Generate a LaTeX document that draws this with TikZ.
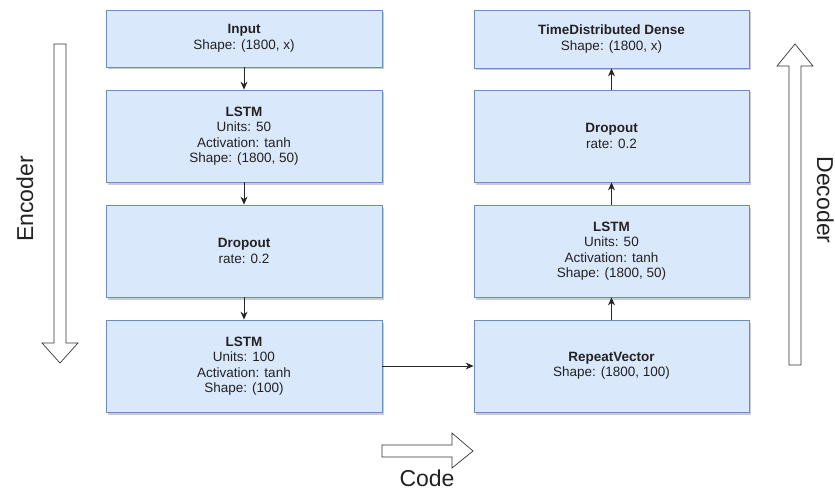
\documentclass[tikz,border=0pt]{standalone}
\usepackage{fontspec}
\setmainfont{Liberation Sans}
\usetikzlibrary{arrows.meta,shadows}
\definecolor{boxfill}{HTML}{DAE8FC}
\definecolor{boxline}{HTML}{6C8EBF}
\definecolor{bigline}{HTML}{333333}
\definecolor{txt}{HTML}{222222}
\tikzset{
  layer/.style={draw=boxline, fill=boxfill, line width=0.8pt, text=txt,
    drop shadow={shadow xshift=2pt, shadow yshift=-2.5pt, opacity=0.4, fill=gray},
    minimum width=276pt, align=center, inner sep=0pt,
    font=\fontsize{13.5}{15.5}\selectfont},
  flow/.style={draw=black!85, line width=0.8pt, -{Stealth[length=8pt,width=7pt]}},
  bigarrow/.style={draw=bigline, fill=white, line width=0.7pt, line join=miter},
  biglabel/.style={font=\fontsize{23}{26}\selectfont, inner sep=0pt, text=txt}
}
\begin{document}
\begin{tikzpicture}[x=1pt,y=-1pt]
\useasboundingbox (0,0) rectangle (835,492);
% left column
\node[layer, minimum height=57pt] (in) at (244,38.5) {\textbf{Input}\\Shape: (1800, x)};
\node[layer, minimum height=92pt] (l1) at (244,136) {\textbf{LSTM}\\Units: 50\\Activation: tanh\\Shape: (1800, 50)};
\node[layer, minimum height=92pt] (d1) at (244,251) {\textbf{Dropout}\\rate: 0.2};
\node[layer, minimum height=92pt] (l2) at (244,366) {\textbf{LSTM}\\Units: 100\\Activation: tanh\\Shape: (100)};
% right column
\node[layer, minimum width=275pt, minimum height=58pt] (td) at (611.5,39) {\textbf{TimeDistributed Dense}\\Shape: (1800, x)};
\node[layer, minimum width=275pt, minimum height=92pt] (d2) at (611.5,136) {\textbf{Dropout}\\rate: 0.2};
\node[layer, minimum width=275pt, minimum height=92pt] (l3) at (611.5,251) {\textbf{LSTM}\\Units: 50\\Activation: tanh\\Shape: (1800, 50)};
\node[layer, minimum width=275pt, minimum height=92pt] (rv) at (611.5,366) {\textbf{RepeatVector}\\Shape: (1800, 100)};
% connectors
\draw[flow] (in) -- (l1);
\draw[flow] (l1) -- (d1);
\draw[flow] (d1) -- (l2);
\draw[flow] (l2) -- (rv);
\draw[flow] (rv) -- (l3);
\draw[flow] (l3) -- (d2);
\draw[flow] (d2) -- (td);
% big arrows
\draw[bigarrow] (54,44) -- (66,44) -- (66,343) -- (78,343) -- (60,363) -- (42,343) -- (54,343) -- cycle;
\draw[bigarrow] (789,365) -- (801,365) -- (801,66) -- (813,66) -- (795,44) -- (777,66) -- (789,66) -- cycle;
\draw[bigarrow] (382,445) -- (452,445) -- (452,433) -- (473,451) -- (452,468) -- (452,457) -- (382,457) -- cycle;
% labels
\node[biglabel, rotate=90, anchor=base] (enc) at (33,199) {Encoder};
\node[biglabel, rotate=-90, anchor=base] (dec) at (817,200) {Decoder};
\node[biglabel, anchor=base] (code) at (427,486) {Code};
\end{tikzpicture}
\end{document}
